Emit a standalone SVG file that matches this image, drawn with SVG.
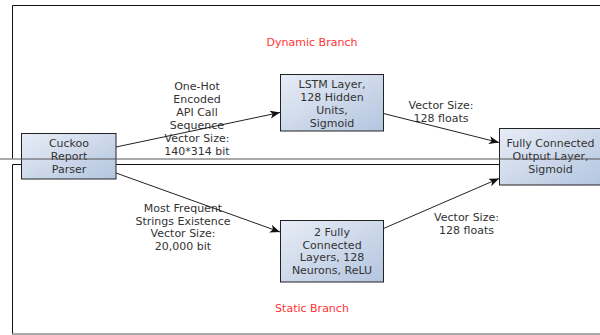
<svg xmlns="http://www.w3.org/2000/svg" width="600" height="335" viewBox="0 0 600 335">
  <defs>
    <linearGradient id="boxFill" x1="0" y1="0" x2="1" y2="1">
      <stop offset="0" stop-color="#e8edf6"/>
      <stop offset="1" stop-color="#b3c5df"/>
    </linearGradient>
    <marker id="arrow" markerUnits="userSpaceOnUse" markerWidth="12" markerHeight="10" refX="10" refY="4" orient="auto">
      <path d="M0,0 L10,4 L0,8 L2.5,4 Z" fill="#111"/>
    </marker>
    <style>
      .frame { fill: none; stroke: #111; stroke-width: 1; }
      .divider { fill: none; stroke: #555; stroke-width: 1.2; }
      .box { fill: url(#boxFill); stroke: #222; stroke-width: 1; }
      .lbl { font-family: "DejaVu Sans", Verdana, sans-serif; font-size: 11px; fill: #333; text-anchor: middle; }
      .branch { font-family: "DejaVu Sans", Verdana, sans-serif; font-size: 11px; fill: #ff3333; text-anchor: middle; }
      .edge { fill: none; stroke: #222; stroke-width: 1; marker-end: url(#arrow); }
    </style>
  </defs>

  <!-- branch frames -->
  <g id="frames">
    <path class="frame" d="M601,5.5 H12.5 V158.5"/>
    <path class="frame" d="M601,164.5 H12.5 V333.5"/>
    <line class="divider" x1="12" y1="334" x2="600" y2="334"/>
    <text class="branch" x="312" y="46">Dynamic Branch</text>
    <text class="branch" x="312" y="312">Static Branch</text>
  </g>

  <!-- connectors -->
  <g id="edges">
    <g class="lbl">
      <text x="197" y="90">One-Hot</text>
      <text x="197" y="103">Encoded</text>
      <text x="197" y="116">API Call</text>
      <text x="197" y="129">Sequence</text>
      <text x="197" y="142">Vector Size:</text>
      <text x="197" y="155">140*314 bit</text>

      <text x="441" y="108.5">Vector Size:</text>
      <text x="441" y="121.5">128 floats</text>

      <text x="183" y="212">Most Frequent</text>
      <text x="183" y="224.7">Strings Existence</text>
      <text x="183" y="237.4">Vector Size:</text>
      <text x="183" y="250.1">20,000 bit</text>

      <text x="466.5" y="221">Vector Size:</text>
      <text x="466.5" y="233.5">128 floats</text>
    </g>
    <line class="edge" x1="116" y1="147" x2="280" y2="112.5"/>
    <line class="edge" x1="383.5" y1="113.5" x2="499" y2="142.5"/>
    <line class="edge" x1="116" y1="173" x2="280" y2="232"/>
    <line class="edge" x1="383.5" y1="228.5" x2="499" y2="178.5"/>
  </g>

  <!-- nodes -->
  <g id="parser">
    <rect class="box" x="21.5" y="133.5" width="94.5" height="45.5"/>
    <text class="lbl" x="69" y="147">Cuckoo</text>
    <text class="lbl" x="69" y="160">Report</text>
    <text class="lbl" x="69" y="173">Parser</text>
  </g>

  <g id="lstm">
    <rect class="box" x="280.5" y="74.5" width="103" height="56.5"/>
    <text class="lbl" x="332" y="87.8">LSTM Layer,</text>
    <text class="lbl" x="332" y="100.8">128 Hidden</text>
    <text class="lbl" x="332" y="113.8">Units,</text>
    <text class="lbl" x="332" y="126.8">Sigmoid</text>
  </g>

  <g id="dense">
    <rect class="box" x="280.5" y="220.5" width="103" height="61.5"/>
    <text class="lbl" x="332" y="235.7">2 Fully</text>
    <text class="lbl" x="332" y="248.5">Connected</text>
    <text class="lbl" x="332" y="261.3">Layers, 128</text>
    <text class="lbl" x="332" y="274.1">Neurons, ReLU</text>
  </g>

  <g id="output">
    <rect class="box" x="499.5" y="128.5" width="103" height="56.5"/>
    <text class="lbl" x="550.5" y="147">Fully Connected</text>
    <text class="lbl" x="550.5" y="160">Output Layer,</text>
    <text class="lbl" x="550.5" y="173">Sigmoid</text>
  </g>

  <!-- separator between the two branches, drawn over the boxes -->
  <line class="divider" x1="0" y1="159" x2="600" y2="159"/>
</svg>
